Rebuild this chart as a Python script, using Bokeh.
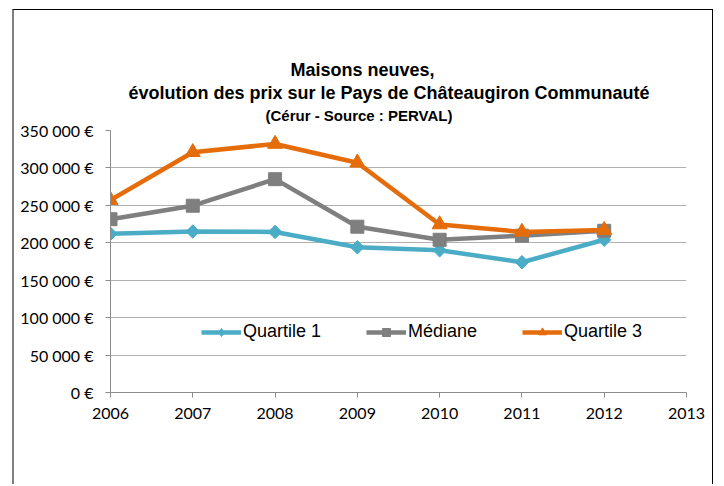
import math
from bokeh.plotting import figure
from bokeh.models import (Title, Legend, LegendItem, FixedTicker, CustomJSTickFormatter,
                          Range1d)
from bokeh.embed import file_html
from bokeh.resources import INLINE

# ---- data ----
years = [2006, 2007, 2008, 2009, 2010, 2011, 2012]
quartile1 = [212000, 215000, 214500, 194000, 190000, 174000, 204000]
mediane = [231500, 249500, 285000, 221500, 204000, 209500, 216000]
quartile3 = [257000, 321000, 332000, 307000, 224500, 214500, 217000]
series_names = ["Quartile 1", "Médiane", "Quartile 3"]
x_ticks = [2006, 2007, 2008, 2009, 2010, 2011, 2012, 2013]
y_ticks = [0, 50000, 100000, 150000, 200000, 250000, 300000, 350000]
title_lines = ["Maisons neuves,",
               "évolution des prix sur le Pays de Châteaugiron Communauté",
               "(Cérur - Source : PERVAL)"]

BLUE = "#4BACC6"
GRAY = "#7F7F7F"
ORANGE = "#E46C0A"

p = figure(width=701, height=475, output_backend="svg", toolbar_location=None,
           x_range=Range1d(2006, 2013), y_range=Range1d(0, 350000),
           min_border_left=96, min_border_right=29, min_border_top=120,
           min_border_bottom=93, tools="",
           styles={"margin-left": "12px", "margin-top": "9px",
                   "border-top": "1px solid #000000",
                   "border-left": "2px solid #7f7f7f",
                   "border-right": "1px solid #000000"})
p.outline_line_color = None
p.background_fill_color = "white"
p.border_fill_color = "white"

# axes
p.xaxis.ticker = FixedTicker(ticks=x_ticks)
p.yaxis.ticker = FixedTicker(ticks=y_ticks)
p.yaxis.formatter = CustomJSTickFormatter(code="""
const s = Math.round(tick).toString().replace(/\\B(?=(\\d{3})+(?!\\d))/g, " ");
return s + " €";
""")
p.xaxis.formatter = CustomJSTickFormatter(code="return Math.round(tick).toString();")
for ax in (p.xaxis, p.yaxis):
    ax.axis_line_color = "#8c8c8c"
    ax.major_tick_line_color = "#8c8c8c"
    ax.major_tick_out = 5
    ax.major_tick_in = 0
    ax.minor_tick_line_color = None
    ax.major_label_text_font = "Lato"
    ax.major_label_text_font_size = "16px"
    ax.major_label_text_color = "#000000"
p.yaxis.major_label_standoff = 12
p.xaxis.major_label_standoff = 10
p.xgrid.grid_line_color = None
p.ygrid.grid_line_color = "#b0b0b0"
p.ygrid.grid_line_width = 1

# series
l1 = p.line(years, quartile1, line_color=BLUE, line_width=4.5, line_join="round")
k1 = p.scatter(years, quartile1, marker="diamond", size=12, fill_color=BLUE,
               line_color=BLUE)
m1 = p.scatter(years, quartile1, marker="square", angle=math.pi / 4, size=9.5,
               fill_color=BLUE, line_color=BLUE)
l2 = p.line(years, mediane, line_color=GRAY, line_width=4.5, line_join="round")
m2 = p.scatter(years, mediane, marker="square", size=13, fill_color=GRAY, line_color=GRAY)
l3 = p.line(years, quartile3, line_color=ORANGE, line_width=4.5, line_join="round")
m3 = p.scatter(years, quartile3, marker="triangle", size=15, fill_color=ORANGE,
               line_color=ORANGE)

legend = Legend(items=[LegendItem(label=series_names[0], renderers=[l1, k1]),
                       LegendItem(label=series_names[1], renderers=[l2, m2]),
                       LegendItem(label=series_names[2], renderers=[l3, m3])],
                orientation="horizontal", location=(91, 50))
legend.padding = 0
legend.margin = 0
legend.spacing = 45
legend.glyph_width = 40
legend.glyph_height = 20
legend.label_standoff = 2
legend.label_text_font = "Liberation Sans"
legend.label_text_font_size = "18px"
legend.label_text_color = "#000000"
legend.border_line_alpha = 0
legend.background_fill_alpha = 0
p.add_layout(legend, "center")

# title (three lines, stacked above the frame: nearest first)
title_specs = [(title_lines[2], "15px", 155, 14),
               (title_lines[1], "18px", 18, -10),
               (title_lines[0], "18px", 180, 12)]
for txt, fs, off, so in title_specs:
    p.add_layout(Title(text=txt, align="left", offset=off, standoff=so,
                       text_font="Liberation Sans", text_font_style="bold",
                       text_font_size=fs, text_color="#000000"), "above")

open("out.html", "w").write(file_html(p, INLINE))
